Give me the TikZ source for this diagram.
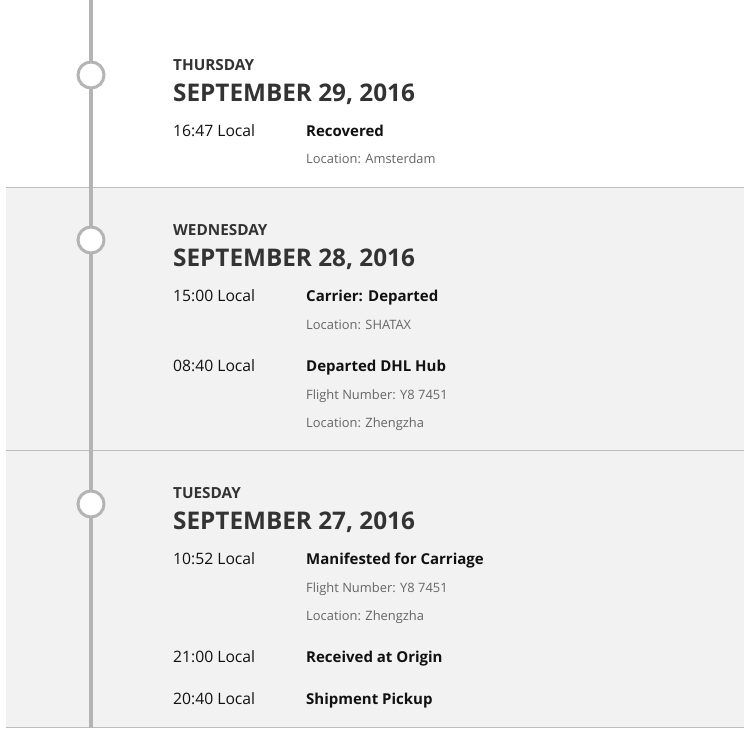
\documentclass[tikz,border=0pt]{standalone}
\usepackage{fontspec}
\setmainfont{Open Sans}

\definecolor{railgray}{HTML}{B4B4B4}
\definecolor{rulegray}{HTML}{BDBDBD}
\definecolor{panelgray}{HTML}{F2F2F2}
\definecolor{headtext}{HTML}{333333}
\definecolor{maintext}{HTML}{111111}
\definecolor{subtext}{HTML}{666666}

\tikzset{
  dayname/.style={anchor=base west,inner sep=0pt,text=headtext,font=\bfseries\fontsize{15.3}{17}\selectfont},
  dayhead/.style={anchor=base west,inner sep=0pt,text=headtext,font=\bfseries\fontsize{24.3}{27}\selectfont},
  clock/.style={anchor=base west,inner sep=0pt,text=maintext,font=\fontsize{15.7}{18}\selectfont},
  event/.style={anchor=base west,inner sep=0pt,text=maintext,font=\bfseries\fontsize{15}{18}\selectfont},
  detail/.style={anchor=base west,inner sep=0pt,text=subtext,font=\fontsize{12.9}{15}\selectfont},
  stop/.style={circle,draw=railgray,line width=3pt,fill=white,minimum size=26pt,inner sep=0pt},
  rule/.style={draw=rulegray,line width=1pt}
}

\begin{document}
\begin{tikzpicture}[x=1pt,y=-1pt]
\useasboundingbox (0,0) rectangle (744,728);
\fill[white] (0,0) rectangle (744,728);
\fill[panelgray] (6,187) rectangle (744,728);
\draw[rule] (6,187) -- (744,187);
\draw[rule] (6,450) -- (744,450);
\draw[rule] (6,727) -- (744,727);

\coordinate (railtop) at (91,0);
\coordinate (railend) at (91,728);
\draw[railgray,line width=4pt] (railtop) -- (railend);

\node[stop] (thu) at (91,75) {};
    \node[dayname] (thuname) at (173,70) {THURSDAY};
    \node[dayhead] (thudate) at (173,101) {SEPTEMBER 29, 2016};
    \node[clock] (t1647) at (173,136) {16:47 Local};
    \node[event] (e1647) at (306,136) {Recovered};
    \node[detail] (l1647) at (306,163) {Location: Amsterdam};

\node[stop] (wed) at (91,240) {};
    \node[dayname] (wedname) at (173,235) {WEDNESDAY};
    \node[dayhead] (weddate) at (173,266) {SEPTEMBER 28, 2016};
    \node[clock] (t1500) at (173,301) {15:00 Local};
    \node[event] (e1500) at (306,301) {Carrier: Departed};
    \node[detail] (l1500) at (306,329) {Location: SHATAX};

    \node[clock] (t0840) at (173,371) {08:40 Local};
    \node[event] (e0840) at (306,371) {Departed DHL Hub};
    \node[detail] (f0840) at (306,399) {Flight Number: Y8 7451};
    \node[detail] (l0840) at (306,427) {Location: Zhengzha};

\node[stop] (tue) at (91,504) {};
    \node[dayname] (tuename) at (173,498) {TUESDAY};
    \node[dayhead] (tuedate) at (173,529) {SEPTEMBER 27, 2016};
    \node[clock] (t1052) at (173,564) {10:52 Local};
    \node[event] (e1052) at (306,564) {Manifested for Carriage};
    \node[detail] (f1052) at (306,592) {Flight Number: Y8 7451};
    \node[detail] (l1052) at (306,620) {Location: Zhengzha};

    \node[clock] (t2100) at (173,662) {21:00 Local};
    \node[event] (e2100) at (306,662) {Received at Origin};

    \node[clock] (t2040) at (173,704) {20:40 Local};
    \node[event] (e2040) at (306,704) {Shipment Pickup};
\end{tikzpicture}
\end{document}
